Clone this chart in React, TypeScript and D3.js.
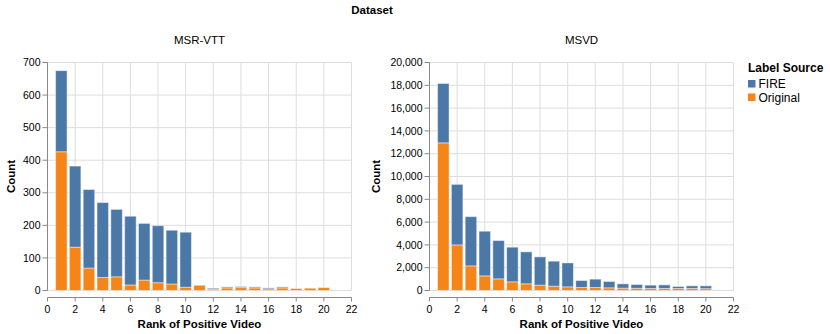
import * as d3 from 'd3';

// rank of positive video (x)
const ranks = [1, 2, 3, 4, 5, 6, 7, 8, 9, 10, 11, 12, 13, 14, 15, 16, 17, 18, 19, 20];

// MSR-VTT counts per label source
const msrvttOriginal = [426, 133, 69, 40, 42, 17, 32, 24, 20, 10, 16, 4, 8, 9, 8, 5, 8, 6, 7, 9];
const msrvttFire = [249, 249, 241, 230, 207, 211, 174, 175, 165, 169, 1, 3, 3, 3, 3, 3, 3, 0, 0, 0];

// MSVD counts per label source
const msvdOriginal = [12950, 4000, 2160, 1285, 1020, 760, 585, 470, 380, 320, 265, 265, 235, 205, 190, 175, 175, 175, 175, 160];
const msvdFire = [5210, 5310, 4320, 3915, 3360, 3040, 2805, 2480, 2190, 2100, 610, 730, 555, 380, 335, 295, 320, 175, 235, 250];

const xTicks = [0, 2, 4, 6, 8, 10, 12, 14, 16, 18, 20, 22];
const msrvttTicks = [0, 100, 200, 300, 400, 500, 600, 700];
const msvdTicks = [0, 2000, 4000, 6000, 8000, 10000, 12000, 14000, 16000, 18000, 20000];

const sources = ['FIRE', 'Original'];
const colors = ['#4c78a8', '#f58518'];

const FONT = 'Liberation Sans, Arial, Helvetica, sans-serif';
const TOP = 62.5;
const BOTTOM = 290.5;
const PW = 304;

function Panel({ title, x0, original, fire, yTicks, titleOffset }) {
    const x = d3.scaleLinear().domain([0, 22]).range([x0, x0 + PW]);
    const y = d3.scaleLinear().domain([0, yTicks[yTicks.length - 1]]).range([BOTTOM, TOP]);
    const fmt = d3.format(',');
    const bw = 11.5;
    const axisY = 297.5;

    const rows = ranks.map((r, i) => ({ rank: r, Original: original[i], FIRE: fire[i] }));
    const stacked = d3.stack().keys(['Original', 'FIRE'])(rows);

    return (
        <g>
            <text x={x0 + PW / 2} y={43.5} textAnchor="middle" fontSize={11.5}>{title}</text>
            {/* grid */}
            {yTicks.map(t => (
                <line key={'gy' + t} x1={x0} x2={x0 + PW} y1={y(t)} y2={y(t)} stroke="#ddd" />
            ))}
            {xTicks.map(t => (
                <line key={'gx' + t} x1={x(t)} x2={x(t)} y1={TOP} y2={BOTTOM} stroke="#ddd" />
            ))}
            {/* bars */}
            {stacked.map(layer => (
                <g key={layer.key} fill={colors[sources.indexOf(layer.key)]}>
                    {layer.map((d, i) => (
                        d[1] - d[0] > 0 ? (
                            <rect key={i}
                                x={x(d.data.rank) - bw / 2}
                                width={bw}
                                y={y(d[1])}
                                height={y(d[0]) - y(d[1])}
                                stroke="#fff" strokeOpacity={0.45} strokeWidth={1} />
                        ) : null
                    ))}
                </g>
            ))}
            {/* y axis */}
            <line x1={x0} x2={x0} y1={TOP} y2={BOTTOM} stroke="#888" />
            {yTicks.map(t => (
                <g key={'ty' + t}>
                    <line x1={x0 - 5} x2={x0} y1={y(t)} y2={y(t)} stroke="#888" />
                    <text x={x0 - 7} y={y(t)} dy="0.35em" textAnchor="end" fontSize={10.5}>{fmt(t)}</text>
                </g>
            ))}
            <text transform={`translate(${x0 - titleOffset},${(TOP + BOTTOM) / 2}) rotate(-90)`}
                textAnchor="middle" fontSize={11.5} fontWeight="bold">Count</text>
            {/* x axis */}
            <line x1={x0} x2={x0 + PW} y1={axisY} y2={axisY} stroke="#888" />
            {xTicks.map(t => (
                <g key={'tx' + t}>
                    <line x1={x(t)} x2={x(t)} y1={axisY} y2={axisY + 4} stroke="#888" />
                    <text x={x(t)} y={313} textAnchor="middle" fontSize={10.5}>{t}</text>
                </g>
            ))}
            <text x={x0 + PW / 2} y={328} textAnchor="middle" fontSize={11.5} fontWeight="bold">Rank of Positive Video</text>
        </g>
    );
}

export default function App() {
    return (
        <svg width={830} height={334} style={{ position: 'absolute', left: 0, top: 0, background: '#fff' }}
            fontFamily={FONT}>
            <text x={372} y={14} textAnchor="middle" fontSize={11.5} fontWeight="bold">Dataset</text>
            <Panel title="MSR-VTT" x0={47.5} original={msrvttOriginal} fire={msrvttFire} yTicks={msrvttTicks} titleOffset={33} />
            <Panel title="MSVD" x0={429.5} original={msvdOriginal} fire={msvdFire} yTicks={msvdTicks} titleOffset={50} />
            {/* legend */}
            <text x={748} y={72} fontSize={12} fontWeight="bold">Label Source</text>
            {sources.map((s, i) => (
                <g key={s}>
                    <rect x={748} y={80 + i * 13.5} width={7.5} height={7.5} fill={colors[i]} />
                    <text x={758.5} y={88 + i * 13.5} fontSize={12}>{s}</text>
                </g>
            ))}
        </svg>
    );
}
